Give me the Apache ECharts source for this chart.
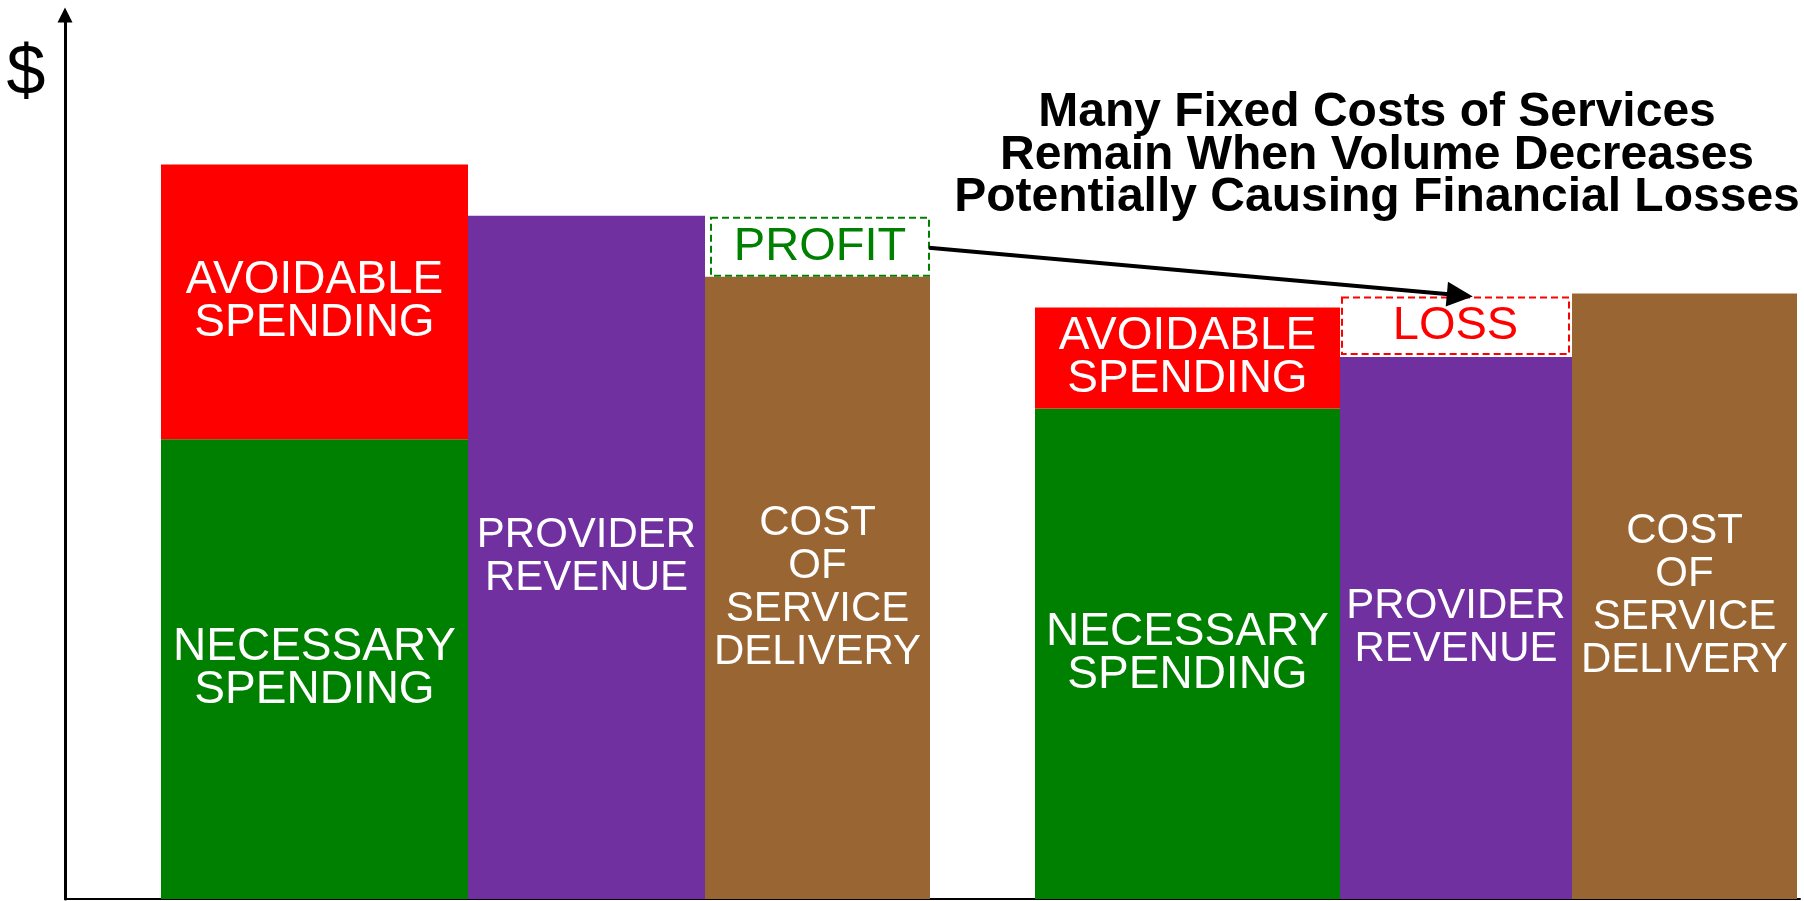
<!DOCTYPE html>
<html>
<head>
<meta charset="utf-8">
<title>Fixed costs remain when volume decreases</title>
<script src="https://cdn.jsdelivr.net/npm/echarts@6/dist/echarts.min.js"></script>
<style>
  html, body { margin: 0; padding: 0; background: #fff; }
  #chart { width: 1804px; height: 901px; }
</style>
</head>
<body>
<div id="chart"></div>
<script>
// the two situations compared: normal volume, then reduced volume
const scenarios = ['Normal volume', 'Reduced volume'];
const necessarySpending = [52.0, 55.5];
const avoidableSpending = [31.1, 11.4];
const providerRevenue = [77.3, 61.3];
const serviceCost = [70.4, 68.5];

const titleLines = [
  'Many Fixed Costs of Services',
  'Remain When Volume Decreases',
  'Potentially Causing Financial Losses'
];

// layout of the columns on the (hidden) x scale
const groupStart = [96, 970];
const columnWidths = [[307, 237, 225], [305, 232, 225]];
// dashed profit / loss boxes, inset in px: left, top, right, bottom
const boxInset = [[6, 2, 1, 1], [2, 4, 3, 3]];

const FONT = '"Liberation Sans", Arial, Helvetica, sans-serif';

const chart = echarts.init(document.getElementById('chart'));

function columnSpan(g, col) {
  let x0 = groupStart[g];
  for (let i = 0; i < col; i++) x0 += columnWidths[g][i];
  return [x0, x0 + columnWidths[g][col]];
}

// rectangle in pixels for a column between two values
function block(api, g, col, from, to) {
  const span = columnSpan(g, col);
  const a = api.coord([span[0], to]);
  const b = api.coord([span[1], from]);
  return { x: a[0], y: a[1], width: b[0] - a[0], height: b[1] - a[1] };
}

function marginBox(api, g) {
  const rev = providerRevenue[g];
  const cost = serviceCost[g];
  // profit sits above the cost column, a loss above the revenue column
  const col = rev >= cost ? 2 : 1;
  const r = block(api, g, col, Math.min(rev, cost), Math.max(rev, cost));
  const ins = boxInset[g];
  return {
    x: r.x + ins[0],
    y: r.y + ins[1],
    width: r.width - ins[0] - ins[2],
    height: r.height - ins[1] - ins[3]
  };
}

function barSeries(name, col, color, values, base, label, fontSize) {
  return {
    name: name,
    type: 'custom',
    data: values.map((v, g) => [g, v]),
    renderItem: function (params, api) {
      const g = api.value(0);
      const b = base ? base[g] : 0;
      return {
        type: 'rect',
        shape: block(api, g, col, b, b + api.value(1)),
        style: { fill: color },
        textContent: {
          style: {
            text: label,
            fill: '#fff',
            fontSize: fontSize,
            fontFamily: FONT,
            lineHeight: 43,
            align: 'center',
            verticalAlign: 'middle'
          }
        },
        textConfig: { position: 'inside' }
      };
    }
  };
}

const option = {
  animation: false,
  backgroundColor: '#fff',
  title: [
    {
      text: titleLines.join('\n'),
      left: 1377,
      top: 92,
      padding: 0,
      textAlign: 'center',
      textVerticalAlign: 'top',
      textStyle: { fontFamily: FONT, fontWeight: 'bold', fontSize: 48, lineHeight: 42.5, color: '#000' }
    },
    {
      text: '$',
      left: 26,
      top: 40,
      padding: 0,
      textAlign: 'center',
      textVerticalAlign: 'top',
      textStyle: { fontFamily: FONT, fontWeight: 'normal', fontSize: 70, lineHeight: 70, color: '#000' }
    }
  ],
  grid: { left: 65, right: 4, top: 15, bottom: 2, containLabel: false, outerBoundsMode: 'none' },
  xAxis: {
    type: 'value',
    min: 0,
    max: 1735,
    axisLine: { show: true, lineStyle: { color: '#000', width: 2 } },
    axisTick: { show: false },
    axisLabel: { show: false },
    splitLine: { show: false }
  },
  yAxis: {
    type: 'value',
    min: 0,
    max: 100,
    axisLine: {
      show: true,
      symbol: ['none', 'triangle'],
      symbolSize: [15, 15],
      lineStyle: { color: '#000', width: 3 }
    },
    axisTick: { show: false },
    axisLabel: { show: false },
    splitLine: { show: false }
  },
  series: [
    barSeries('Necessary spending', 0, '#008000', necessarySpending, null, 'NECESSARY\nSPENDING', 46),
    barSeries('Avoidable spending', 0, '#ff0000', avoidableSpending, necessarySpending, 'AVOIDABLE\nSPENDING', 46),
    barSeries('Provider revenue', 1, '#7030a0', providerRevenue, null, 'PROVIDER\nREVENUE', 42),
    barSeries('Cost of service delivery', 2, '#996633', serviceCost, null, 'COST\nOF\nSERVICE\nDELIVERY', 42),
    {
      name: 'Profit / loss',
      type: 'custom',
      z: 3,
      data: scenarios.map((s, g) => [g, providerRevenue[g] - serviceCost[g]]),
      renderItem: function (params, api) {
        const g = api.value(0);
        const profit = api.value(1) >= 0;
        const color = profit ? '#008000' : '#ff0000';
        return {
          type: 'rect',
          shape: marginBox(api, g),
          style: { fill: '#fff', stroke: color, lineWidth: 2, lineDash: [7, 4] },
          textContent: {
            style: {
              text: profit ? 'PROFIT' : 'LOSS',
              fill: color,
              fontSize: 47,
              fontFamily: FONT,
              align: 'center',
              verticalAlign: 'middle'
            }
          },
          textConfig: { position: 'inside' }
        };
      }
    },
    {
      name: 'arrow',
      type: 'custom',
      z: 4,
      data: [[0, 0]],
      renderItem: function (params, api) {
        const from = marginBox(api, 0);
        const to = marginBox(api, 1);
        const x1 = from.x + from.width;
        const y1 = from.y + from.height / 2 + 1;
        const x2 = to.x + to.width * 0.576;
        const y2 = to.y - 1;
        const len = Math.hypot(x2 - x1, y2 - y1);
        const ux = (x2 - x1) / len;
        const uy = (y2 - y1) / len;
        const headLen = 26;
        const headHalf = 12.5;
        const bx = x2 - ux * headLen;
        const by = y2 - uy * headLen;
        return {
          type: 'group',
          children: [
            {
              type: 'line',
              shape: { x1: x1, y1: y1, x2: bx + ux * 2, y2: by + uy * 2 },
              style: { stroke: '#000', lineWidth: 4 }
            },
            {
              type: 'polygon',
              shape: {
                points: [
                  [x2, y2],
                  [bx - uy * headHalf, by + ux * headHalf],
                  [bx + uy * headHalf, by - ux * headHalf]
                ]
              },
              style: { fill: '#000' }
            }
          ]
        };
      }
    }
  ]
};

chart.setOption(option);
window.addEventListener('resize', () => chart.resize());
</script>
</body>
</html>
